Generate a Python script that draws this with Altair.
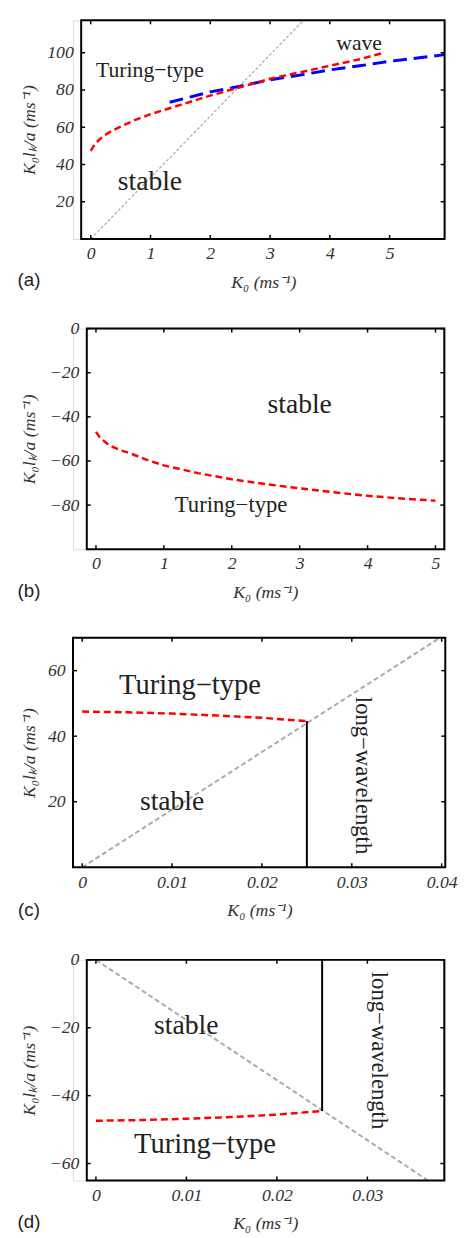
import altair as alt
import pandas as pd

# ---------------- data ----------------
# panel (a)
a_red_x = [0, 0.05, 0.1, 0.2, 0.35, 0.5, 0.75, 1, 1.5, 2, 2.5, 3, 3.5, 4, 4.5, 4.9]
a_red_y = [47.3, 50, 52, 55, 58, 60.3, 64, 67, 72, 77, 81.5, 86, 89.5, 93, 96.5, 100]
a_blue_x = [1.32, 2, 2.5, 3, 3.5, 4, 4.5, 5, 5.5, 5.92]
a_blue_y = [73.4, 79, 82, 85.5, 88, 90.8, 93, 95.4, 97.3, 99]
a_gray_x = [0, 3.56]
a_gray_y = [0, 117.4]
a_xticks = [0, 1, 2, 3, 4, 5]
a_yticks = [20, 40, 60, 80, 100]

# panel (b)
b_red_x = [0, 0.05, 0.1, 0.2, 0.35, 0.5, 0.75, 1, 1.5, 2, 2.5, 3, 3.5, 4, 4.5, 5]
b_red_y = [-46.8, -49, -50.5, -53, -55, -56.5, -59.5, -62, -65.5, -68.3, -70.5,
           -72.4, -74.2, -75.8, -77, -78]
b_xticks = [0, 1, 2, 3, 4, 5]
b_yticks = [0, -20, -40, -60, -80]

# panel (c)
c_red_x = [0, 0.005, 0.01, 0.015, 0.02, 0.025]
c_red_y = [47.5, 47.3, 46.9, 46.3, 45.6, 44.6]
c_gray_x = [0, 0.0398]
c_gray_y = [0, 70]
c_black_x = [0.025, 0.025]
c_black_y = [0, 44.6]
c_xticks = [0, 0.01, 0.02, 0.03, 0.04]
c_yticks = [20, 40, 60]

# panel (d)
d_red_x = [0, 0.005, 0.01, 0.015, 0.02, 0.025]
d_red_y = [-47.4, -47.2, -46.8, -46.3, -45.6, -44.5]
d_gray_x = [0, 0.0367]
d_gray_y = [0, -65]
d_black_x = [0.025, 0.025]
d_black_y = [0, -44.5]
d_xticks = [0, 0.01, 0.02, 0.03]
d_yticks = [0, -20, -40, -60]

# annotation labels
a_labels = ["wave", "Turing\u2212type", "stable"]
b_labels = ["stable", "Turing\u2212type"]
c_labels = ["Turing\u2212type", "stable", "long\u2212wavelength"]
d_labels = ["stable", "Turing\u2212type", "long\u2212wavelength"]

SERIF = "Liberation Serif"
SANS = "Liberation Sans"
TXT = "#222222"
LAB = "#333333"
VIEW_W = 378


def df(x, y):
    return pd.DataFrame({"x": x, "y": y})


def panel(xdom, ydom, dx, W, H, xticks, yticks, xfmt, lines, texts, tag,
          tag_y, xtitle_x, ytitle_x):
    xs = alt.Scale(domain=xdom, range=[dx, dx + W], nice=False, zero=False)
    ys = alt.Scale(domain=ydom, nice=False, zero=False)
    xaxis = alt.Axis(values=xticks, format=xfmt, ticks=False, tickSize=0,
                     domain=False, grid=False, labelFont=SERIF,
                     labelFontStyle="italic", labelFontSize=18,
                     labelColor=LAB, labelPadding=6, labelFlush=False,
                     labelOverlap=False,
                     title="K\u2080 (ms\u207b\u00b9)", titleFont=SERIF,
                     titleFontStyle="italic", titleFontWeight="normal",
                     titleFontSize=18, titleColor=LAB, titleX=xtitle_x,
                     titleY=44, titleBaseline="middle", titleAlign="center")
    yaxis = alt.Axis(values=yticks, format="d", ticks=False, tickSize=0,
                     domain=False, grid=False, offset=-dx, labelFont=SERIF,
                     labelFontStyle="italic", labelFontSize=18,
                     labelColor=LAB, labelPadding=8, labelFlush=False,
                     labelOverlap=False,
                     title="K\u2080l\u2096/a (ms\u207b\u00b9)", titleFont=SERIF,
                     titleFontStyle="italic", titleFontWeight="normal",
                     titleFontSize=18, titleColor=LAB, titleX=ytitle_x,
                     titleBaseline="middle", titleAlign="center")
    X = alt.X("x:Q", scale=xs, axis=xaxis)
    Y = alt.Y("y:Q", scale=ys, axis=yaxis)

    layers = []
    for (ldf, color, dash, width) in lines:
        layers.append(
            alt.Chart(ldf).mark_line(color=color, strokeDash=dash,
                                     strokeWidth=width, clip=False)
            .encode(x=X, y=Y)
        )
    tx = pd.DataFrame({"x": xticks})
    ty = pd.DataFrame({"y": yticks})
    tick_style = dict(color="black", strokeWidth=1.5)
    layers.append(alt.Chart(tx).mark_rule(**tick_style).encode(
        x=X, y=alt.value(H), y2=alt.value(H - 4)))
    layers.append(alt.Chart(tx).mark_rule(**tick_style).encode(
        x=X, y=alt.value(0), y2=alt.value(4)))
    layers.append(alt.Chart(ty).mark_rule(**tick_style).encode(
        y=Y, x=alt.value(dx), x2=alt.value(dx + 4)))
    layers.append(alt.Chart(ty).mark_rule(**tick_style).encode(
        y=Y, x=alt.value(dx + W - 4), x2=alt.value(dx + W)))

    tdf = pd.DataFrame(texts, columns=["label", "x", "y", "size", "angle"])
    layers.append(
        alt.Chart(tdf).mark_text(font=SERIF, color=TXT, align="center",
                                 baseline="middle")
        .encode(x=X, y=Y, text="label:N",
                size=alt.Size("size:Q", scale=None),
                angle=alt.Angle("angle:Q", scale=None))
    )
    layers.append(
        alt.Chart(pd.DataFrame({"t": [tag]})).mark_text(
            font=SANS, fontSize=19, color=TXT, align="center",
            baseline="middle")
        .encode(text="t:N", x=alt.value(-44.7), y=alt.value(tag_y))
    )
    layers.append(
        alt.Chart(pd.DataFrame({"t": [0]})).mark_rect(
            filled=False, stroke="black", strokeWidth=2)
        .encode(x=alt.value(dx), x2=alt.value(dx + W),
                y=alt.value(0), y2=alt.value(H))
    )
    return alt.layer(*layers).properties(width=VIEW_W, height=H)


RED = "#ff0000"
BLUE = "#0000ff"
GRAY = "#aaaaaa"

pa = panel([-0.16, 5.92], [0, 117.4], 8.3, 369, 222, a_xticks, a_yticks, "d",
           [(df(a_gray_x, a_gray_y), GRAY, [3, 2], 1.2),
            (df(a_blue_x, a_blue_y), BLUE, [14, 7], 3),
            (df(a_red_x, a_red_y), RED, [7, 4], 2.5)],
           [(a_labels[0], 4.49, 105.3, 22, 0),
            (a_labels[1], 0.99, 90.5, 22, 0),
            (a_labels[2], 0.99, 30.7, 28, 0)],
           "(a)", 264, 193.3, 28.3 - 81)

pb = panel([-0.135, 5.13], [-100, 0], 14, 363, 224, b_xticks, b_yticks, "d",
           [(df(b_red_x, b_red_y), RED, [7, 4], 2.5)],
           [(b_labels[0], 3.0, -34.5, 28, 0),
            (b_labels[1], 1.99, -80, 23, 0)],
           "(b)", 266.6, 195.3, 28.3 - 86.7)

pc = panel([-0.00102, 0.0404], [0, 70], 0, 378, 233, c_xticks, c_yticks,
           ".2~f",
           [(df(c_gray_x, c_gray_y), GRAY, [5, 3], 2),
            (df(c_black_x, c_black_y), "black", [1, 0], 2),
            (df(c_red_x, c_red_y), RED, [7, 4], 2.5)],
           [(c_labels[0], 0.012, 55.6, 29, 0),
            (c_labels[1], 0.010, 20, 28, 0),
            (c_labels[2], 0.0312, 28, 23, 90)],
           "(c)", 276.7, 189.3, 28.3 - 72.7)

pd_ = panel([-0.00101, 0.0385], [-65, 0], 14, 363, 224, d_xticks, d_yticks,
            ".2~f",
            [(df(d_gray_x, d_gray_y), GRAY, [5, 3], 2),
             (df(d_black_x, d_black_y), "black", [1, 0], 2),
             (df(d_red_x, d_red_y), RED, [7, 4], 2.5)],
            [(d_labels[0], 0.00998, -19.6, 28, 0),
             (d_labels[1], 0.01205, -54.4, 29, 0),
             (d_labels[2], 0.03126, -26.7, 23, 90)],
            "(d)", 266.7, 195.3, 28.3 - 86.7)

upper = alt.vconcat(pa, pb, spacing=27)
lower = alt.vconcat(pc, pd_, spacing=29)
chart = alt.vconcat(upper, lower, spacing=31).properties(
    padding={"left": 9, "top": 0, "right": 5, "bottom": 4}
).configure_view(stroke="transparent").configure(background="white")

chart.save("out.html", embed_options={"renderer": "svg", "actions": False})
